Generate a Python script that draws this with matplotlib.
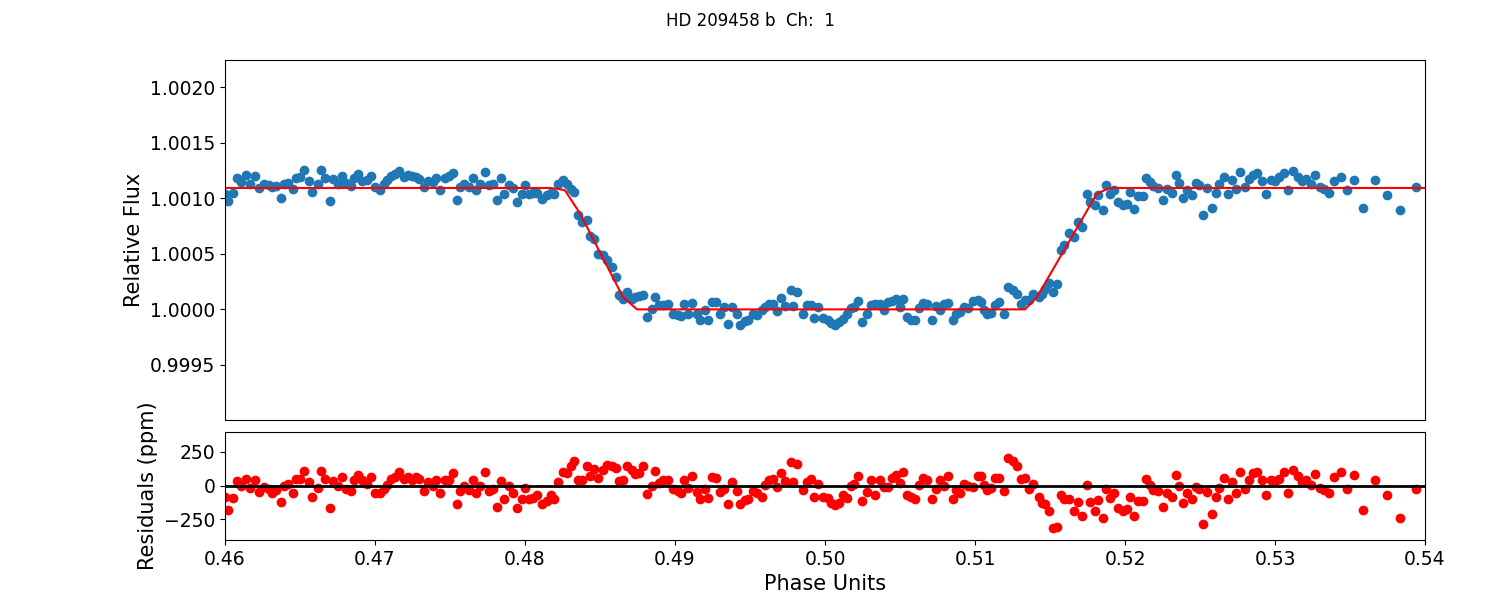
# -*- coding: utf-8 -*-
# Secondary eclipse light curve with best-fit model and residuals

#%% Import packages

import matplotlib
matplotlib.use('Agg')
import matplotlib.pyplot as plt
from matplotlib.ticker import FormatStrFormatter


#%% Data

TITLE = 'HD 209458 b  Ch:  1'

phase = [
    0.46002, 0.46018, 0.46051, 0.46080, 0.46107, 0.46142, 0.46164, 0.46202, 0.46229, 0.46262,
    0.46291, 0.46311, 0.46342, 0.46371, 0.46396, 0.46420, 0.46453, 0.46476, 0.46502, 0.46527,
    0.46558, 0.46582, 0.46618, 0.46642, 0.46667, 0.46698, 0.46720, 0.46753, 0.46780, 0.46809,
    0.46838, 0.46858, 0.46889, 0.46913, 0.46947, 0.46976, 0.46998, 0.47031, 0.47058, 0.47080,
    0.47107, 0.47136, 0.47162, 0.47191, 0.47218, 0.47247, 0.47273, 0.47296, 0.47324, 0.47351,
    0.47384, 0.47407, 0.47436, 0.47464, 0.47491, 0.47518, 0.47544, 0.47569, 0.47596, 0.47624,
    0.47651, 0.47676, 0.47702, 0.47731, 0.47758, 0.47787, 0.47813, 0.47840, 0.47862, 0.47896,
    0.47922, 0.47949, 0.47978, 0.48000, 0.48029, 0.48056, 0.48082, 0.48111, 0.48144, 0.48171,
    0.48196, 0.48220, 0.48253, 0.48280, 0.48307, 0.48327, 0.48353, 0.48380, 0.48413, 0.48433,
    0.48460, 0.48487, 0.48520, 0.48547, 0.48580, 0.48607, 0.48627, 0.48653, 0.48680, 0.48713,
    0.48733, 0.48760, 0.48787, 0.48813, 0.48847, 0.48867, 0.48893, 0.48920, 0.48953, 0.48987,
    0.49020, 0.49040, 0.49060, 0.49087, 0.49113, 0.49147, 0.49167, 0.49200, 0.49220, 0.49247,
    0.49273, 0.49300, 0.49327, 0.49353, 0.49380, 0.49413, 0.49433, 0.49467, 0.49487, 0.49520,
    0.49547, 0.49580, 0.49600, 0.49627, 0.49653, 0.49680, 0.49707, 0.49733, 0.49773, 0.49787,
    0.49813, 0.49853, 0.49880, 0.49907, 0.49927, 0.49953, 0.49987, 0.50020, 0.50040, 0.50067,
    0.50093, 0.50120, 0.50147, 0.50173, 0.50193, 0.50220, 0.50247, 0.50280, 0.50307, 0.50333,
    0.50367, 0.50393, 0.50420, 0.50447, 0.50473, 0.50500, 0.50520, 0.50547, 0.50573, 0.50600,
    0.50627, 0.50653, 0.50680, 0.50713, 0.50740, 0.50767, 0.50793, 0.50820, 0.50853, 0.50873,
    0.50900, 0.50927, 0.50953, 0.50987, 0.51020, 0.51040, 0.51060, 0.51080, 0.51107, 0.51133,
    0.51160, 0.51193, 0.51220, 0.51253, 0.51280, 0.51307, 0.51333, 0.51360, 0.51387, 0.51427,
    0.51447, 0.51467, 0.51493, 0.51520, 0.51547, 0.51573, 0.51593, 0.51627, 0.51660, 0.51687,
    0.51713, 0.51747, 0.51767, 0.51800, 0.51820, 0.51853, 0.51873, 0.51900, 0.51927, 0.51953,
    0.51987, 0.52013, 0.52033, 0.52060, 0.52087, 0.52120, 0.52140, 0.52167, 0.52187, 0.52220,
    0.52253, 0.52280, 0.52313, 0.52340, 0.52360, 0.52387, 0.52413, 0.52447, 0.52473, 0.52493,
    0.52520, 0.52547, 0.52580, 0.52607, 0.52627, 0.52660, 0.52687, 0.52713, 0.52740, 0.52767,
    0.52800, 0.52827, 0.52853, 0.52880, 0.52913, 0.52940, 0.52973, 0.53000, 0.53027, 0.53060,
    0.53087, 0.53120, 0.53153, 0.53180, 0.53207, 0.53240, 0.53267, 0.53300, 0.53327, 0.53360,
    0.53393, 0.53440, 0.53480, 0.53527, 0.53587, 0.53667, 0.53747, 0.53833, 0.53940,
]

flux = [
    1.001040, 1.000975, 1.001050, 1.001185, 1.001146, 1.001206, 1.001131, 1.001197, 1.001095, 1.001125,
    1.001116, 1.001101, 1.001110, 1.001005, 1.001125, 1.001140, 1.001086, 1.001185, 1.001191, 1.001257,
    1.001155, 1.001056, 1.001125, 1.001251, 1.001185, 1.000975, 1.001176, 1.001131, 1.001197, 1.001140,
    1.001107, 1.001185, 1.001215, 1.001155, 1.001167, 1.001197, 1.001101, 1.001077, 1.001131, 1.001167,
    1.001197, 1.001215, 1.001245, 1.001191, 1.001206, 1.001197, 1.001191, 1.001176, 1.001101, 1.001155,
    1.001146, 1.001185, 1.001077, 1.001185, 1.001197, 1.001227, 1.000987, 1.001101, 1.001131, 1.001101,
    1.001185, 1.001077, 1.001131, 1.001236, 1.001116, 1.001131, 1.000981, 1.001185, 1.001041, 1.001116,
    1.001095, 1.000966, 1.001041, 1.001116, 1.001041, 1.001047, 1.001047, 1.000996, 1.001026, 1.001047,
    1.001041, 1.001131, 1.001165, 1.001131, 1.001086, 1.001056, 1.000847, 1.000787, 1.000808, 1.000658,
    1.000637, 1.000501, 1.000486, 1.000447, 1.000381, 1.000291, 1.000126, 1.000096, 1.000156, 1.000096,
    1.000111, 1.000120, 1.000126, 0.999931, 1.000006, 1.000111, 1.000036, 1.000040, 1.000045, 0.999961,
    0.999946, 0.999940, 1.000045, 0.999961, 1.000057, 0.999961, 0.999901, 0.999991, 0.999907, 1.000066,
    1.000066, 0.999955, 1.000021, 0.999871, 1.000021, 0.999961, 0.999856, 0.999895, 0.999901, 0.999961,
    0.999946, 0.999991, 1.000021, 1.000051, 1.000045, 0.999982, 1.000105, 1.000027, 1.000171, 1.000027,
    1.000156, 0.999961, 1.000036, 1.000036, 0.999925, 1.000021, 0.999925, 0.999901, 0.999875, 0.999856,
    0.999886, 0.999916, 0.999961, 1.000015, 1.000021, 1.000075, 0.999886, 0.999961, 1.000036, 1.000051,
    1.000045, 0.999997, 1.000066, 1.000075, 1.000096, 1.000021, 1.000090, 0.999931, 0.999907, 0.999901,
    1.000015, 1.000057, 1.000051, 0.999907, 1.000027, 0.999991, 1.000045, 1.000057, 0.999907, 0.999961,
    0.999976, 1.000021, 1.000015, 1.000075, 1.000081, 1.000070, 0.999991, 0.999961, 0.999967, 1.000036,
    1.000066, 0.999961, 1.000201, 1.000171, 1.000141, 1.000051, 1.000081, 1.000087, 1.000135, 1.000111,
    1.000140, 1.000186, 1.000237, 1.000156, 1.000231, 1.000537, 1.000576, 1.000687, 1.000651, 1.000786,
    1.000741, 1.001036, 1.000966, 1.000937, 1.001027, 1.000898, 1.001117, 1.001042, 1.001072, 1.000967,
    1.000943, 1.000952, 1.001057, 1.000907, 1.001021, 1.001021, 1.001183, 1.001147, 1.001111, 1.001093,
    1.000982, 1.001087, 1.001051, 1.001213, 1.001141, 1.001003, 1.001072, 1.001027, 1.001141, 1.001117,
    1.000853, 1.001093, 1.000913, 1.001051, 1.001132, 1.001192, 1.001042, 1.001162, 1.001081, 1.001237,
    1.001102, 1.001171, 1.001213, 1.001231, 1.001153, 1.001042, 1.001162, 1.001153, 1.001192, 1.001231,
    1.001072, 1.001243, 1.001192, 1.001153, 1.001171, 1.001132, 1.001213, 1.001102, 1.001087, 1.001051,
    1.001153, 1.001192, 1.001072, 1.001162, 1.000913, 1.001162, 1.001027, 1.000892, 1.001102,
]

resid_ppm = [
    -83, -184, -93, 37, -5, 49, -20, 42, -47, -12,
    -29, -54, -34, -122, -5, 10, -54, 49, 49, 105,
    25, -83, -20, 110, 49, -164, 37, -5, 61, -25,
    -42, 44, 78, 44, 15, 66, -54, -59, -29, 7,
    49, 64, 98, 51, 64, 44, 64, 51, -37, 25,
    -5, 44, -59, 39, 39, 93, -140, -42, -5, -34,
    39, -59, 0, 98, -42, -25, -157, 37, -98, -5,
    -54, -164, -103, -17, -98, -91, -74, -140, -115, -74,
    -98, 25, 98, 93, 142, 179, 39, 39, 147, 69,
    122, 56, 113, 154, 147, 130, 32, 39, 147, 113,
    88, 93, 142, -66, 0, 105, 20, 44, 39, -29,
    -42, -59, 44, -17, 74, -49, -103, -25, -91, 64,
    56, -47, -25, -140, 25, -42, -140, -108, -103, -42,
    -59, -86, 7, 44, 49, -10, 93, 32, 172, 25,
    162, -34, 25, 49, -83, 15, -83, -91, -132, -147,
    -127, -74, -91, -5, 15, 74, -115, -49, 39, -74,
    44, -10, -10, 56, 81, 20, 100, -74, -83, -98,
    7, 56, 39, -98, -25, 44, 0, 69, -103, -34,
    -59, 15, 0, -10, 69, 74, 7, -34, -17, 56,
    56, -42, 203, 179, 147, 49, 56, -25, 15, -83,
    -127, -140, -189, -319, -311, -74, -98, -103, -189, -123,
    -230, 7, -123, -189, -108, -238, -25, -91, -59, -164,
    -189, -176, -83, -230, -115, -115, 49, 7, -34, -42,
    -157, -59, -83, 81, -5, -127, -59, -103, -10, -29,
    -287, -49, -213, -83, -17, 56, -98, 25, -59, 98,
    -25, 44, 93, 98, 39, -74, 39, 32, 49, 98,
    -54, 118, 69, 25, 44, 7, 88, -17, -34, -54,
    64, 98, -29, 81, -181, 44, -74, -238, -29,
]

# Best-fit eclipse model
model_phase = [0.46000, 0.48167, 0.48233, 0.48267, 0.48320, 0.48367, 0.48653, 0.48747,
               0.51333, 0.51413, 0.51813, 0.51900, 0.54000]
model_flux = [1.001092, 1.001092, 1.001081, 1.001070, 1.000960, 1.000862, 1.000111, 1.000000,
              1.000000, 1.000111, 1.001042, 1.001092, 1.001092]


#%% Plot

TICK_FS = 13.5
LABEL_FS = 15

fig = plt.figure(figsize=(15, 6), dpi=100)
ax1 = fig.add_axes([0.15, 0.30, 0.80, 0.60])
ax2 = fig.add_axes([0.15, 0.10, 0.80, 0.18])

# Light curve + model
ax1.plot(phase, flux, 'o', color='#1f77b4', markersize=6)
ax1.plot(model_phase, model_flux, '-', color='red', linewidth=1.5)
ax1.set_xlim(0.46, 0.54)
ax1.set_ylim(0.999005, 1.002243)
ax1.set_xticks([])
ax1.set_yticks([0.9995, 1.0000, 1.0005, 1.0010, 1.0015, 1.0020])
ax1.yaxis.set_major_formatter(FormatStrFormatter('%.4f'))
ax1.set_ylabel('Relative Flux', fontsize=LABEL_FS)
ax1.tick_params(labelsize=TICK_FS)

# Residuals
ax2.plot(phase, resid_ppm, 'o', color='red', markersize=6)
ax2.axhline(0, color='black', linewidth=2)
ax2.set_xlim(0.46, 0.54)
ax2.set_ylim(-405, 398)
ax2.set_yticks([-250, 0, 250])
ax2.set_xticks([0.46, 0.47, 0.48, 0.49, 0.50, 0.51, 0.52, 0.53, 0.54])
ax2.set_xlabel('Phase Units', fontsize=LABEL_FS)
ax2.set_ylabel('Residuals (ppm)', fontsize=LABEL_FS)
ax2.tick_params(labelsize=TICK_FS)

fig.suptitle(TITLE, fontsize=12)

plt.savefig('out.png', dpi=100)
plt.close(fig)

#%% End of Script
